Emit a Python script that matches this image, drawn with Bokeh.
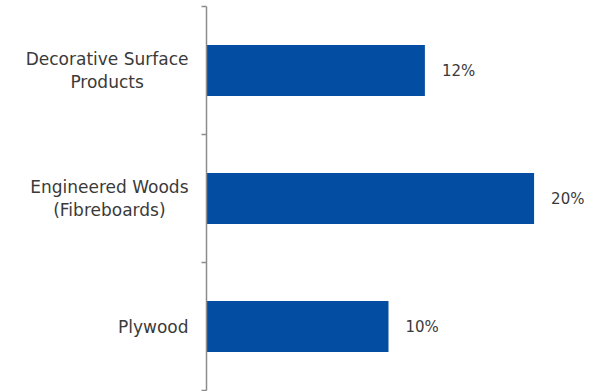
from bokeh.plotting import figure
from bokeh.layouts import row
from bokeh.models import ColumnDataSource, FactorRange, Range1d, LinearAxis, FixedTicker
from bokeh.core.properties import value
from bokeh.embed import file_html
from bokeh.resources import INLINE

# data (bottom to top)
categories = ["Plywood", "Engineered Woods\n(Fibreboards)", "Decorative Surface\nProducts"]
values = [10, 18, 12]
value_labels = ["10%", "20%", "12%"]
boundaries = [0, 1, 2, 3]

BAR = "#034ea2"
AXIS = "#8c8c8c"
TEXT = "#3a3a3a"
FONT = "DejaVu Sans"

src = ColumnDataSource(dict(cat=categories, val=values, lab=value_labels))
yr = FactorRange(factors=categories)

# left panel: category labels (block right-aligned, lines centred)
lab = figure(width=196, height=391, output_backend="svg", toolbar_location=None,
             y_range=yr, x_range=Range1d(0, 1), x_axis_location=None, y_axis_location=None,
             min_border_left=0, min_border_right=0, min_border_top=6, min_border_bottom=1)
lab.outline_line_color = None
lab.xgrid.visible = False
lab.ygrid.visible = False
lab.text(x=1, y="cat", text="cat", source=src, x_offset=-8, anchor="center_right",
         text_align="center", text_baseline="middle", text_font=value(FONT),
         text_font_size="17px", text_color=TEXT, text_line_height=1.15)

# main chart
p = figure(width=388, height=391, output_backend="svg", toolbar_location=None,
           y_range=yr, x_range=Range1d(0, 20.77),
           x_axis_location=None, y_axis_location=None,
           min_border_left=10, min_border_right=0, min_border_top=6, min_border_bottom=1)
p.outline_line_color = None
p.xgrid.visible = False
p.ygrid.visible = False

p.hbar(y="cat", right="val", left=0, height=0.4, source=src, fill_color=BAR, line_color=None)
p.text(x="val", y="cat", text="lab", source=src, x_offset=17, text_align="left",
       text_baseline="middle", text_font=value(FONT), text_font_size="15px", text_color=TEXT)

# axis line with ticks at category boundaries (synthetic coordinates of the factor range)
tick_axis = LinearAxis(ticker=FixedTicker(ticks=boundaries),
                       major_label_overrides={b: "" for b in boundaries},
                       major_label_standoff=0, major_tick_in=0, major_tick_out=5,
                       minor_tick_line_color=None, axis_line_color=AXIS, axis_line_width=1.5,
                       major_tick_line_color=AXIS, major_tick_line_width=1.5)
p.add_layout(tick_axis, "left")

layout = row(lab, p)
open("out.html", "w").write(file_html(layout, INLINE))
